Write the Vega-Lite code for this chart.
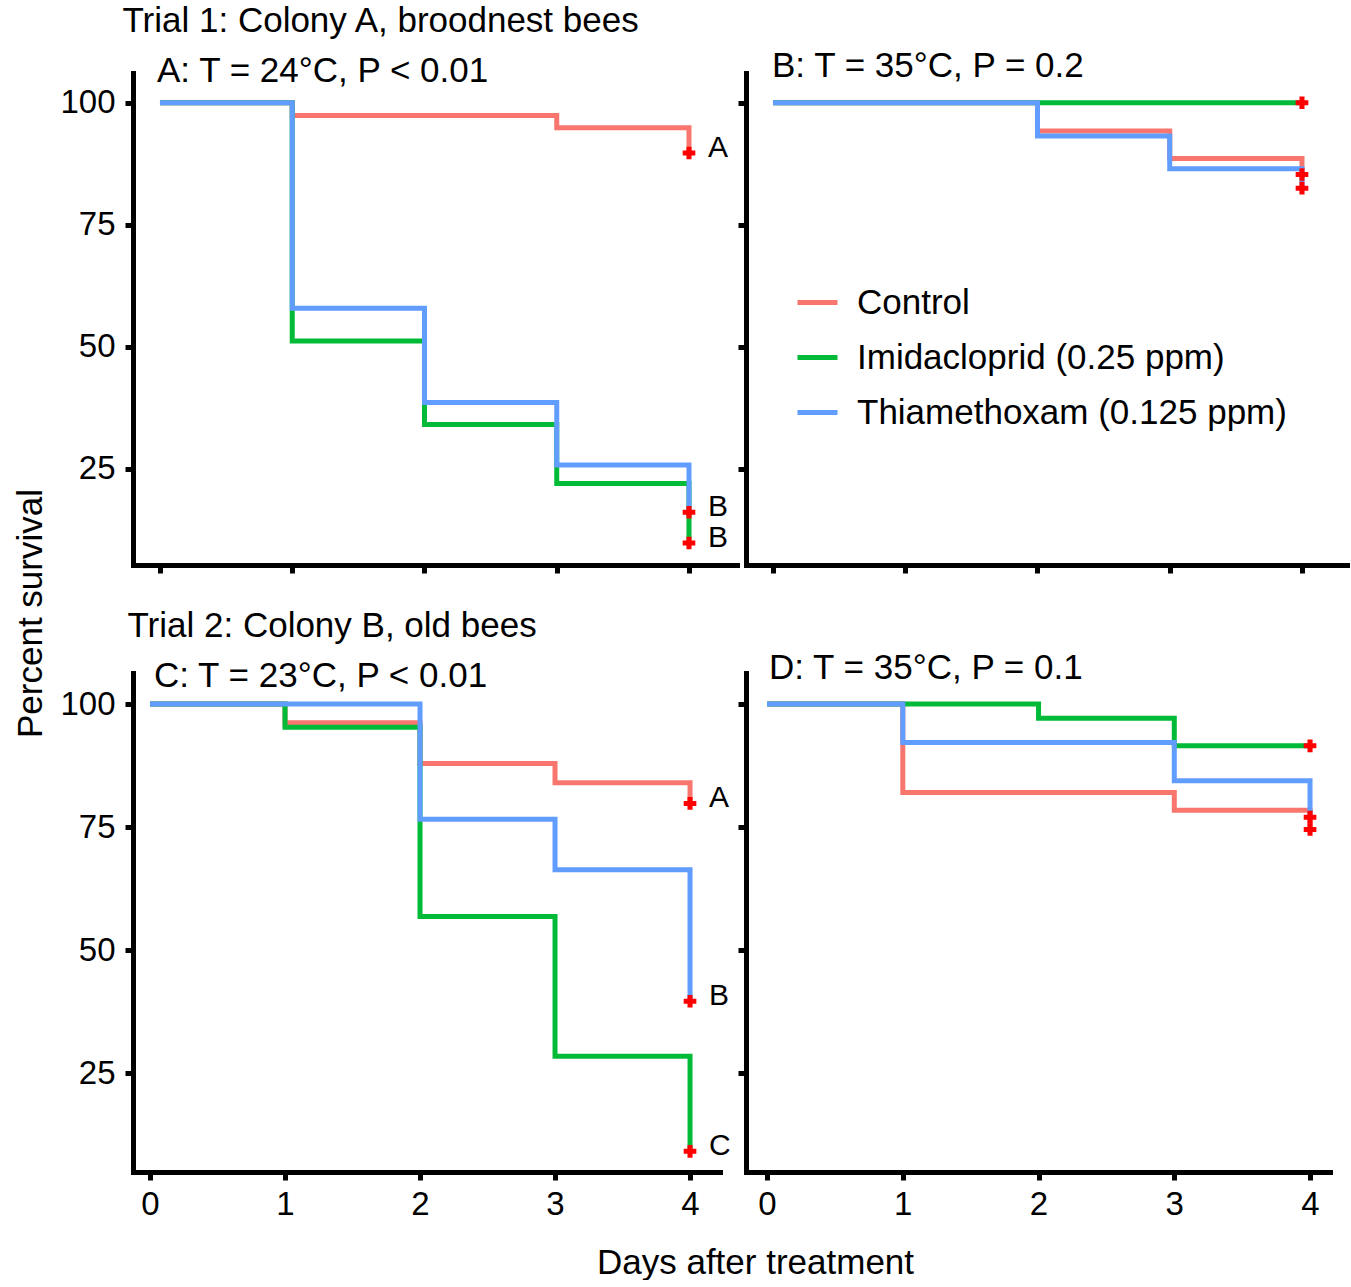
{
  "$schema": "https://vega.github.io/schema/vega-lite/v6.json",
  "padding": {"left": 13, "top": 3, "right": 0, "bottom": 0},
  "background": "white",
  "columns": 2,
  "spacing": {"row": 108, "column": 9},
  "bounds": "flush",
  "align": "each",
  "resolve": {"scale": {"color": "independent"}},
  "data": {
    "values": [
      {"panel": "A", "treatment": "Control", "day": 0, "survival": 100, "letter": ""},
      {"panel": "A", "treatment": "Control", "day": 1, "survival": 97.4, "letter": ""},
      {"panel": "A", "treatment": "Control", "day": 2, "survival": 97.4, "letter": ""},
      {"panel": "A", "treatment": "Control", "day": 3, "survival": 94.9, "letter": ""},
      {"panel": "A", "treatment": "Control", "day": 4, "survival": 89.7, "letter": "A"},
      {"panel": "A", "treatment": "Imidacloprid (0.25 ppm)", "day": 0, "survival": 100, "letter": ""},
      {"panel": "A", "treatment": "Imidacloprid (0.25 ppm)", "day": 1, "survival": 51.2, "letter": ""},
      {"panel": "A", "treatment": "Imidacloprid (0.25 ppm)", "day": 2, "survival": 34.1, "letter": ""},
      {"panel": "A", "treatment": "Imidacloprid (0.25 ppm)", "day": 3, "survival": 22.0, "letter": ""},
      {"panel": "A", "treatment": "Imidacloprid (0.25 ppm)", "day": 4, "survival": 9.8, "letter": "B"},
      {"panel": "A", "treatment": "Thiamethoxam (0.125 ppm)", "day": 0, "survival": 100, "letter": ""},
      {"panel": "A", "treatment": "Thiamethoxam (0.125 ppm)", "day": 1, "survival": 57.9, "letter": ""},
      {"panel": "A", "treatment": "Thiamethoxam (0.125 ppm)", "day": 2, "survival": 38.6, "letter": ""},
      {"panel": "A", "treatment": "Thiamethoxam (0.125 ppm)", "day": 3, "survival": 25.8, "letter": ""},
      {"panel": "A", "treatment": "Thiamethoxam (0.125 ppm)", "day": 4, "survival": 16.1, "letter": "B"},
      {"panel": "B", "treatment": "Control", "day": 0, "survival": 100, "letter": ""},
      {"panel": "B", "treatment": "Control", "day": 1, "survival": 100, "letter": ""},
      {"panel": "B", "treatment": "Control", "day": 2, "survival": 94.2, "letter": ""},
      {"panel": "B", "treatment": "Control", "day": 3, "survival": 88.6, "letter": ""},
      {"panel": "B", "treatment": "Control", "day": 4, "survival": 85.3, "letter": ""},
      {"panel": "B", "treatment": "Imidacloprid (0.25 ppm)", "day": 0, "survival": 100, "letter": ""},
      {"panel": "B", "treatment": "Imidacloprid (0.25 ppm)", "day": 1, "survival": 100, "letter": ""},
      {"panel": "B", "treatment": "Imidacloprid (0.25 ppm)", "day": 2, "survival": 100, "letter": ""},
      {"panel": "B", "treatment": "Imidacloprid (0.25 ppm)", "day": 3, "survival": 100, "letter": ""},
      {"panel": "B", "treatment": "Imidacloprid (0.25 ppm)", "day": 4, "survival": 100, "letter": ""},
      {"panel": "B", "treatment": "Thiamethoxam (0.125 ppm)", "day": 0, "survival": 100, "letter": ""},
      {"panel": "B", "treatment": "Thiamethoxam (0.125 ppm)", "day": 1, "survival": 100, "letter": ""},
      {"panel": "B", "treatment": "Thiamethoxam (0.125 ppm)", "day": 2, "survival": 93.2, "letter": ""},
      {"panel": "B", "treatment": "Thiamethoxam (0.125 ppm)", "day": 3, "survival": 86.5, "letter": ""},
      {"panel": "B", "treatment": "Thiamethoxam (0.125 ppm)", "day": 4, "survival": 82.5, "letter": ""},
      {"panel": "C", "treatment": "Control", "day": 0, "survival": 100, "letter": ""},
      {"panel": "C", "treatment": "Control", "day": 1, "survival": 96.2, "letter": ""},
      {"panel": "C", "treatment": "Control", "day": 2, "survival": 87.9, "letter": ""},
      {"panel": "C", "treatment": "Control", "day": 3, "survival": 84.0, "letter": ""},
      {"panel": "C", "treatment": "Control", "day": 4, "survival": 79.8, "letter": "A"},
      {"panel": "C", "treatment": "Imidacloprid (0.25 ppm)", "day": 0, "survival": 100, "letter": ""},
      {"panel": "C", "treatment": "Imidacloprid (0.25 ppm)", "day": 1, "survival": 95.3, "letter": ""},
      {"panel": "C", "treatment": "Imidacloprid (0.25 ppm)", "day": 2, "survival": 56.8, "letter": ""},
      {"panel": "C", "treatment": "Imidacloprid (0.25 ppm)", "day": 3, "survival": 28.4, "letter": ""},
      {"panel": "C", "treatment": "Imidacloprid (0.25 ppm)", "day": 4, "survival": 9.1, "letter": "C"},
      {"panel": "C", "treatment": "Thiamethoxam (0.125 ppm)", "day": 0, "survival": 100, "letter": ""},
      {"panel": "C", "treatment": "Thiamethoxam (0.125 ppm)", "day": 1, "survival": 100, "letter": ""},
      {"panel": "C", "treatment": "Thiamethoxam (0.125 ppm)", "day": 2, "survival": 76.6, "letter": ""},
      {"panel": "C", "treatment": "Thiamethoxam (0.125 ppm)", "day": 3, "survival": 66.3, "letter": ""},
      {"panel": "C", "treatment": "Thiamethoxam (0.125 ppm)", "day": 4, "survival": 39.6, "letter": "B"},
      {"panel": "D", "treatment": "Control", "day": 0, "survival": 100, "letter": ""},
      {"panel": "D", "treatment": "Control", "day": 1, "survival": 82.0, "letter": ""},
      {"panel": "D", "treatment": "Control", "day": 2, "survival": 82.0, "letter": ""},
      {"panel": "D", "treatment": "Control", "day": 3, "survival": 78.4, "letter": ""},
      {"panel": "D", "treatment": "Control", "day": 4, "survival": 74.5, "letter": ""},
      {"panel": "D", "treatment": "Imidacloprid (0.25 ppm)", "day": 0, "survival": 100, "letter": ""},
      {"panel": "D", "treatment": "Imidacloprid (0.25 ppm)", "day": 1, "survival": 100, "letter": ""},
      {"panel": "D", "treatment": "Imidacloprid (0.25 ppm)", "day": 2, "survival": 97.1, "letter": ""},
      {"panel": "D", "treatment": "Imidacloprid (0.25 ppm)", "day": 3, "survival": 91.5, "letter": ""},
      {"panel": "D", "treatment": "Imidacloprid (0.25 ppm)", "day": 4, "survival": 91.5, "letter": ""},
      {"panel": "D", "treatment": "Thiamethoxam (0.125 ppm)", "day": 0, "survival": 100, "letter": ""},
      {"panel": "D", "treatment": "Thiamethoxam (0.125 ppm)", "day": 1, "survival": 92.2, "letter": ""},
      {"panel": "D", "treatment": "Thiamethoxam (0.125 ppm)", "day": 2, "survival": 92.2, "letter": ""},
      {"panel": "D", "treatment": "Thiamethoxam (0.125 ppm)", "day": 3, "survival": 84.4, "letter": ""},
      {"panel": "D", "treatment": "Thiamethoxam (0.125 ppm)", "day": 4, "survival": 77.0, "letter": ""}
    ]
  },
  "concat": [
    {
      "width": 604,
      "height": 492,
      "title": {"text": "A: T = 24°C, P < 0.01", "dx": 24, "dy": 90},
      "transform": [{"filter": "datum.panel === 'A'"}],
      "encoding": {
        "x": {
          "field": "day", "type": "quantitative",
          "scale": {"domain": [-0.204, 4.363], "nice": false, "zero": false},
          "axis": {
            "values": [0, 1, 2, 3, 4], "labels": false,
            "title": "Trial 1: Colony A, broodnest bees",
            "titleX": -11, "titleY": -545, "titleAlign": "left", "titleBaseline": "middle"
          }
        },
        "y": {
          "field": "survival", "type": "quantitative",
          "scale": {"domain": [5.3, 106.1], "nice": false, "zero": false},
          "axis": {
            "values": [25, 50, 75, 100],
            "title": "Percent survival",
            "titleX": -103, "titleY": 540, "titleAngle": 270, "titleAlign": "center", "titleBaseline": "middle"
          }
        }
      },
      "layer": [
        {
          "mark": {"type": "line", "interpolate": "step-after", "strokeWidth": 5},
          "encoding": {
            "color": {
              "field": "treatment", "type": "nominal",
              "scale": {"domain": ["Control", "Imidacloprid (0.25 ppm)", "Thiamethoxam (0.125 ppm)"], "range": ["#F8766D", "#00BA38", "#619CFF"]},
              "legend": null
            }
          }
        },
        {
          "transform": [{"filter": "datum.day === 4"}],
          "mark": {"type": "point", "shape": "cross", "filled": true, "size": 160, "color": "#FF0000", "opacity": 1}
        },
        {
          "transform": [{"filter": "datum.day === 4 && datum.letter !== ''"}],
          "mark": {"type": "text", "align": "left", "baseline": "middle", "dx": 19, "dy": -5, "fontSize": 30, "color": "black"},
          "encoding": {"text": {"field": "letter"}}
        }
      ]
    },
    {
      "width": 604,
      "height": 492,
      "title": {"text": "B: T = 35°C, P = 0.2", "dx": 26, "dy": 15},
      "transform": [{"filter": "datum.panel === 'B'"}],
      "encoding": {
        "x": {
          "field": "day", "type": "quantitative",
          "scale": {"domain": [-0.204, 4.363], "nice": false, "zero": false},
          "axis": {"values": [0, 1, 2, 3, 4], "labels": false, "title": null}
        },
        "y": {
          "field": "survival", "type": "quantitative",
          "scale": {"domain": [5.3, 106.1], "nice": false, "zero": false},
          "axis": {"values": [25, 50, 75, 100], "labels": false, "title": null}
        }
      },
      "layer": [
        {
          "mark": {"type": "line", "interpolate": "step-after", "strokeWidth": 5},
          "encoding": {
            "color": {
              "field": "treatment", "type": "nominal",
              "scale": {"domain": ["Control", "Imidacloprid (0.25 ppm)", "Thiamethoxam (0.125 ppm)"], "range": ["#F8766D", "#00BA38", "#619CFF"]},
              "legend": {
                "orient": "none", "legendX": 49, "legendY": 207, "title": null,
                "symbolType": "stroke", "symbolSize": 1600, "symbolStrokeWidth": 5,
                "labelFontSize": 35, "labelFont": "Liberation Sans", "labelColor": "black",
                "labelOffset": 17, "rowPadding": 14, "padding": 0, "labelLimit": 0
              }
            }
          }
        },
        {
          "transform": [{"filter": "datum.day === 4"}],
          "mark": {"type": "point", "shape": "cross", "filled": true, "size": 160, "color": "#FF0000", "opacity": 1}
        }
      ]
    },
    {
      "width": 587,
      "height": 499,
      "title": {"text": "C: T = 23°C, P < 0.01", "dx": 21, "dy": 90},
      "transform": [{"filter": "datum.panel === 'C'"}],
      "encoding": {
        "x": {
          "field": "day", "type": "quantitative",
          "scale": {"domain": [-0.126, 4.222], "nice": false, "zero": false},
          "axis": {
            "values": [0, 1, 2, 3, 4],
            "title": "Days after treatment",
            "titleX": 622, "titleY": 90, "titleAlign": "center", "titleBaseline": "middle"
          }
        },
        "y": {
          "field": "survival", "type": "quantitative",
          "scale": {"domain": [4.9, 106.3], "nice": false, "zero": false},
          "axis": {
            "values": [25, 50, 75, 100],
            "title": "Trial 2: Colony B, old bees",
            "titleX": -6, "titleY": -48, "titleAngle": 0, "titleAlign": "left", "titleBaseline": "middle"
          }
        }
      },
      "layer": [
        {
          "mark": {"type": "line", "interpolate": "step-after", "strokeWidth": 5},
          "encoding": {
            "color": {
              "field": "treatment", "type": "nominal",
              "scale": {"domain": ["Control", "Imidacloprid (0.25 ppm)", "Thiamethoxam (0.125 ppm)"], "range": ["#F8766D", "#00BA38", "#619CFF"]},
              "legend": null
            }
          }
        },
        {
          "transform": [{"filter": "datum.day === 4"}],
          "mark": {"type": "point", "shape": "cross", "filled": true, "size": 160, "color": "#FF0000", "opacity": 1}
        },
        {
          "transform": [{"filter": "datum.day === 4 && datum.letter !== ''"}],
          "mark": {"type": "text", "align": "left", "baseline": "middle", "dx": 19, "dy": -5, "fontSize": 30, "color": "black"},
          "encoding": {"text": {"field": "letter"}}
        }
      ]
    },
    {
      "width": 584,
      "height": 499,
      "title": {"text": "D: T = 35°C, P = 0.1", "dx": 23, "dy": 17},
      "transform": [{"filter": "datum.panel === 'D'"}],
      "encoding": {
        "x": {
          "field": "day", "type": "quantitative",
          "scale": {"domain": [-0.155, 4.147], "nice": false, "zero": false},
          "axis": {"values": [0, 1, 2, 3, 4], "title": null}
        },
        "y": {
          "field": "survival", "type": "quantitative",
          "scale": {"domain": [4.9, 106.3], "nice": false, "zero": false},
          "axis": {"values": [25, 50, 75, 100], "labels": false, "title": null}
        }
      },
      "layer": [
        {
          "mark": {"type": "line", "interpolate": "step-after", "strokeWidth": 5},
          "encoding": {
            "color": {
              "field": "treatment", "type": "nominal",
              "scale": {"domain": ["Control", "Imidacloprid (0.25 ppm)", "Thiamethoxam (0.125 ppm)"], "range": ["#F8766D", "#00BA38", "#619CFF"]},
              "legend": null
            }
          }
        },
        {
          "transform": [{"filter": "datum.day === 4"}],
          "mark": {"type": "point", "shape": "cross", "filled": true, "size": 160, "color": "#FF0000", "opacity": 1}
        }
      ]
    }
  ],
  "config": {
    "view": {"stroke": null},
    "font": "Liberation Sans",
    "axis": {
      "domainColor": "black", "domainWidth": 5, "domainCap": "square",
      "tickColor": "black", "tickWidth": 5, "tickSize": 8,
      "labelFont": "Liberation Sans", "labelFontSize": 33, "labelColor": "black",
      "titleFont": "Liberation Sans", "titleFontSize": 35, "titleFontWeight": "normal", "titleColor": "black",
      "grid": false
    },
    "axisY": {"labelPadding": 10},
    "axisX": {"labelPadding": 8},
    "title": {
      "anchor": "start", "frame": "group", "font": "Liberation Sans", "fontSize": 35,
      "fontWeight": "normal", "color": "black", "baseline": "middle", "offset": 0
    }
  }
}
